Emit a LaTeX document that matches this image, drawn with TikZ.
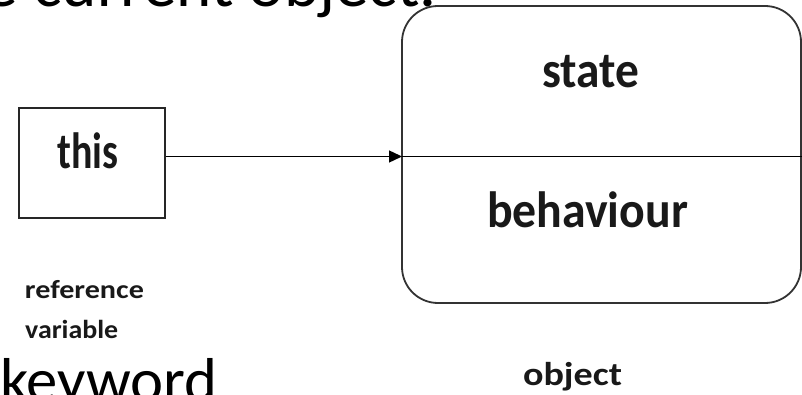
\documentclass[tikz,border=0pt]{standalone}
\usepackage{fontspec}
\setmainfont{Carlito}
\usepackage{graphicx}
\usetikzlibrary{arrows.meta}
% text squeezed or stretched to a given width, keeping its natural height
\newcommand{\fitw}[3]{\resizebox{#1pt}{\height}{\fontsize{#2}{#2}\selectfont #3}}
\tikzset{
  lbl/.style={inner sep=0pt, anchor=base, text=black!90},
  box/.style={draw=black!85, line width=1.5pt},
  objbox/.style={draw=black!80, line width=1.8pt, rounded corners=36pt,
    minimum width=399pt, minimum height=297pt, inner sep=0pt},
  link/.style={line width=1.4pt, -{Triangle[length=13pt,width=12pt]}}
}
\begin{document}
\begin{tikzpicture}[x=1pt,y=-1pt]
\useasboundingbox (0,0) rectangle (802,395);
\fill[white] (0,0) rectangle (802,395);

% slide text running past the edges
\node[inner sep=0pt, anchor=base east] (top) at (437,7) {\fitw{452}{66}{e current object.}};
\node[inner sep=0pt, anchor=base west] (kw) at (0,401) {\fitw{217}{62}{keyword}};

% reference variable
\node[box, minimum width=146pt, minimum height=110pt, inner sep=0pt] (thisbox) at (92,163) {};
\node[lbl] (thislbl) at (88,169) {\fitw{61}{51}{\bfseries this}};
\node[lbl] (ref) at (84.5,298) {\fitw{119}{26}{\bfseries reference}};
\node[lbl, anchor=base west] (var) at (25,338) {\fitw{93}{26}{\bfseries variable}};

% the object
\node[objbox] (obj) at (601.5,154.5) {};
\coordinate (hit) at (402,156.5);
\draw[line width=1.4pt] (hit) -- (obj.east |- hit);
\node[lbl] (st) at (590.5,88) {\fitw{97}{51}{\bfseries state}};
\node[lbl] (bh) at (587.5,228) {\fitw{201}{51}{\bfseries behaviour}};
\node[lbl] (objlbl) at (572.5,385) {\fitw{99}{33}{\bfseries object}};

% reference points at the object
\draw[link] (thisbox.east |- hit) -- (hit);
\end{tikzpicture}
\end{document}
